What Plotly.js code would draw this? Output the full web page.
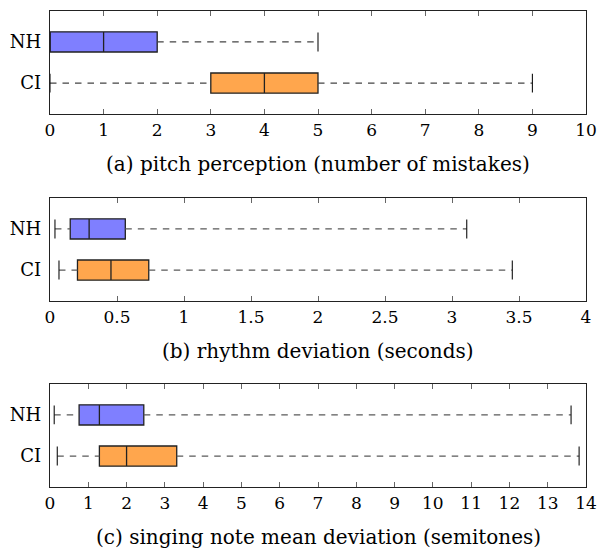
<!DOCTYPE html>
<html>
<head>
<meta charset="utf-8">
<script src="https://cdn.plot.ly/plotly-3.0.1.min.js"></script>
<style>html,body{margin:0;padding:0;background:#fff;}#chart{width:598px;height:548px;}</style>
</head>
<body>
<div id="chart"></div>
<script>
// ---- data ----
const groups = ['NH', 'CI'];
const groupPos = [1, 0];

const pitchLower  = [0, 0];
const pitchQ1     = [0, 3];
const pitchMedian = [1, 4];
const pitchQ3     = [2, 5];
const pitchUpper  = [5, 9];

const rhythmLower  = [0.037, 0.067];
const rhythmQ1     = [0.151, 0.205];
const rhythmMedian = [0.292, 0.455];
const rhythmQ3     = [0.562, 0.737];
const rhythmUpper  = [3.11, 3.45];

const singLower  = [0.11, 0.19];
const singQ1     = [0.76, 1.29];
const singMedian = [1.29, 2.0];
const singQ3     = [2.45, 3.31];
const singUpper  = [13.61, 13.82];

const panelTitles = [
  '(a) pitch perception (number of mistakes)',
  '(b) rhythm deviation (seconds)',
  '(c) singing note mean deviation (semitones)'
];
const xRanges = [[0, 10], [0, 4], [0, 14]];
const xDtick = [1, 0.5, 1];

// ---- style ----
const colors = ['#7f7fff', '#ffa64d'];
const FONT = 'DejaVu Serif';

const panels = [
  {lo: pitchLower, q1: pitchQ1, med: pitchMedian, q3: pitchQ3, hi: pitchUpper},
  {lo: rhythmLower, q1: rhythmQ1, med: rhythmMedian, q3: rhythmQ3, hi: rhythmUpper},
  {lo: singLower, q1: singQ1, med: singMedian, q3: singQ3, hi: singUpper}
];

const traces = [];
const capHalf = 0.23;
panels.forEach((p, pi) => {
  const xa = pi === 0 ? 'x' : 'x' + (pi + 1);
  const ya = pi === 0 ? 'y' : 'y' + (pi + 1);
  groups.forEach((g, gi) => {
    const yv = groupPos[gi];
    // dashed whiskers
    traces.push({
      type: 'scatter', mode: 'lines', xaxis: xa, yaxis: ya,
      x: [p.lo[gi], p.q1[gi], null, p.q3[gi], p.hi[gi]],
      y: [yv, yv, null, yv, yv],
      line: {color: pi === 0 ? '#444' : '#5a5a5a', width: 1.3, dash: '6.5px,6px'},
      hoverinfo: 'skip', showlegend: false
    });
    // whisker caps
    traces.push({
      type: 'scatter', mode: 'lines', xaxis: xa, yaxis: ya,
      x: [p.lo[gi], p.lo[gi], null, p.hi[gi], p.hi[gi]],
      y: [yv - capHalf, yv + capHalf, null, yv - capHalf, yv + capHalf],
      line: {color: '#111', width: 1.1},
      hoverinfo: 'skip', showlegend: false
    });
    // box
    traces.push({
      type: 'box', orientation: 'h', xaxis: xa, yaxis: ya,
      y: [yv], q1: [p.q1[gi]], median: [p.med[gi]], q3: [p.q3[gi]],
      lowerfence: [p.q1[gi]], upperfence: [p.q3[gi]],
      width: 0.49, whiskerwidth: 0,
      fillcolor: colors[gi], line: {color: '#222', width: 1.3},
      boxpoints: false, hoverinfo: 'skip', showlegend: false, name: g
    });
  });
});

const domains = [[0.7836, 1], [0.3908, 0.6071], [0, 0.2164]];
const layout = {
  width: 598, height: 548,
  margin: {l: 50, r: 12, t: 11, b: 61},
  paper_bgcolor: '#fff', plot_bgcolor: '#fff',
  font: {family: FONT, color: '#000', size: 18},
  showlegend: false,
  annotations: []
};
domains.forEach((d, i) => {
  const s = i === 0 ? '' : String(i + 1);
  layout['xaxis' + s] = {
    anchor: 'y' + s, domain: [0, 1], range: xRanges[i], dtick: xDtick[i], tick0: 0,
    showgrid: false, zeroline: false,
    showline: true, linecolor: '#222', linewidth: 1.2, mirror: 'ticks',
    ticks: 'inside', ticklen: 5, tickcolor: '#666', tickwidth: 1,
    tickfont: {family: FONT, size: 17, color: '#000'}
  };
  layout['yaxis' + s] = {
    anchor: 'x' + s, domain: d, range: [-0.75, 1.75],
    tickvals: groupPos, ticktext: groups,
    showgrid: false, zeroline: false,
    showline: true, linecolor: '#222', linewidth: 1.2, mirror: true,
    ticks: '', ticklabelstandoff: 4,
    tickfont: {family: FONT, size: 18, color: '#000'}
  };
  layout.annotations.push({
    text: panelTitles[i], showarrow: false,
    xref: 'x' + s + ' domain', yref: 'y' + s + ' domain',
    x: 0.5, y: 0, xanchor: 'center', yanchor: 'middle', yshift: -50,
    font: {family: FONT, size: 20, color: '#000'}
  });
});

Plotly.newPlot('chart', traces, layout, {staticPlot: true, displayModeBar: false});
</script>
</body>
</html>
